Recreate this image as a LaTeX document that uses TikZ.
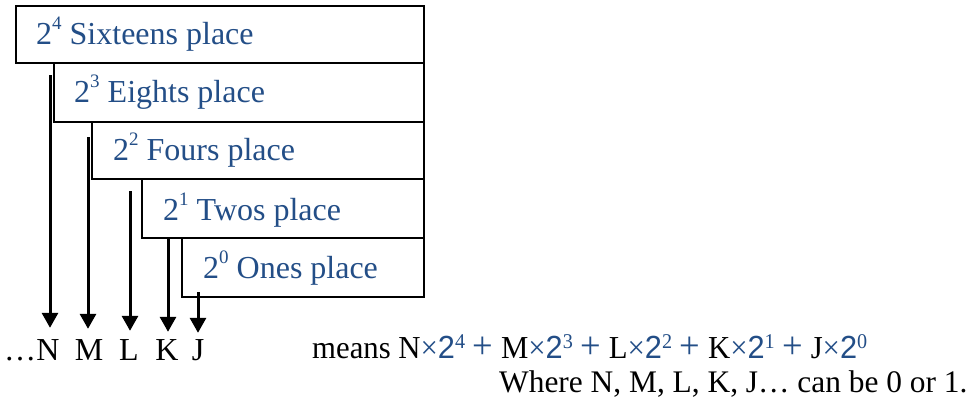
\documentclass[tikz,border=0pt]{standalone}
\usepackage{fontspec}
\usepackage{graphicx}
\setmainfont{Liberation Serif}
\newfontfamily\formsans{Liberation Sans}
\usetikzlibrary{arrows.meta}
\definecolor{placeblue}{RGB}{35,78,135}
\tikzset{
  placebox/.style={draw=black, line width=2.3pt, fill=white},
  placetext/.style={anchor=base west, inner sep=0pt, text=placeblue, font=\fontsize{32}{38}\selectfont},
  letter/.style={anchor=base, inner sep=0pt, text height=22pt, font=\fontsize{32}{38}\selectfont},
  pointer/.style={line width=3pt, -{Triangle[width=16pt,length=15pt]}},
  plaintext/.style={anchor=base west, inner sep=0pt, font=\fontsize{32}{38}\selectfont}
}
\newcommand{\sups}[1]{\raisebox{15pt}{\fontsize{19}{19}\selectfont #1}}
\newcommand{\bx}[1]{\textcolor{placeblue}{\texttimes{\formsans 2}\raisebox{10pt}{\fontsize{21}{21}\selectfont #1}}}
\newcommand{\bplus}{\hspace{8pt}\textcolor{placeblue}{\fontsize{38}{38}\selectfont +}\hspace{8pt}}
\begin{document}
\begin{tikzpicture}[x=1pt,y=-1pt]
\useasboundingbox (0,0) rectangle (976,404);
% boxes
\draw[placebox] (16,6) rectangle (424,63);
\draw[placebox] (54,63) rectangle (424,122);
\draw[placebox] (92,122) rectangle (424,179);
\draw[placebox] (142,179) rectangle (424,238);
\draw[placebox] (182,238) rectangle (424,297);
\node[placetext] (b4) at (36,45) {2\sups{4} Sixteens place};
\node[placetext] (b3) at (74,102) {2\sups{3} Eights place};
\node[placetext] (b2) at (113,160) {2\sups{2} Fours place};
\node[placetext] (b1) at (163,220) {2\sups{1} Twos place};
\node[placetext] (b0) at (203,278) {2\sups{0} Ones place};
% letters
\node[letter] (N) at (48,360) {N};
\node[letter] (M) at (89,360) {M};
\node[letter] (L) at (129,360) {L};
\node[letter] (K) at (167,360) {K};
\node[letter] (J) at (198,360) {J};
\node[anchor=base east, inner sep=0pt, font=\fontsize{32}{38}\selectfont] (dots) at (N.base west) {\ldots};
% arrow starts
\coordinate (s4) at (50,75);
\coordinate (s3) at (88,137);
\coordinate (s2) at (130,191);
\coordinate (s1) at (168,238);
\coordinate (s0) at (198,292);
\draw[pointer, shorten >=10pt] (s4) -- (s4 |- N.north);
\draw[pointer, shorten >=9pt] (s3) -- (s3 |- M.north);
\draw[pointer, shorten >=7pt] (s2) -- (s2 |- L.north);
\draw[pointer, shorten >=6pt] (s1) -- (s1 |- K.north);
\draw[pointer, shorten >=5pt] (s0) -- (s0 |- J.north);
% formula
\node[plaintext] (means) at (312,358) {\resizebox{555pt}{\height}{means N\bx{4}\bplus M\bx{3}\bplus L\bx{2}\bplus K\bx{1}\bplus J\bx{0}}};
\node[plaintext, font=\fontsize{31.4}{38}\selectfont] (where) at (499,392) {Where N, M, L, K, J\ldots\ can be 0 or 1.};
\end{tikzpicture}
\end{document}
